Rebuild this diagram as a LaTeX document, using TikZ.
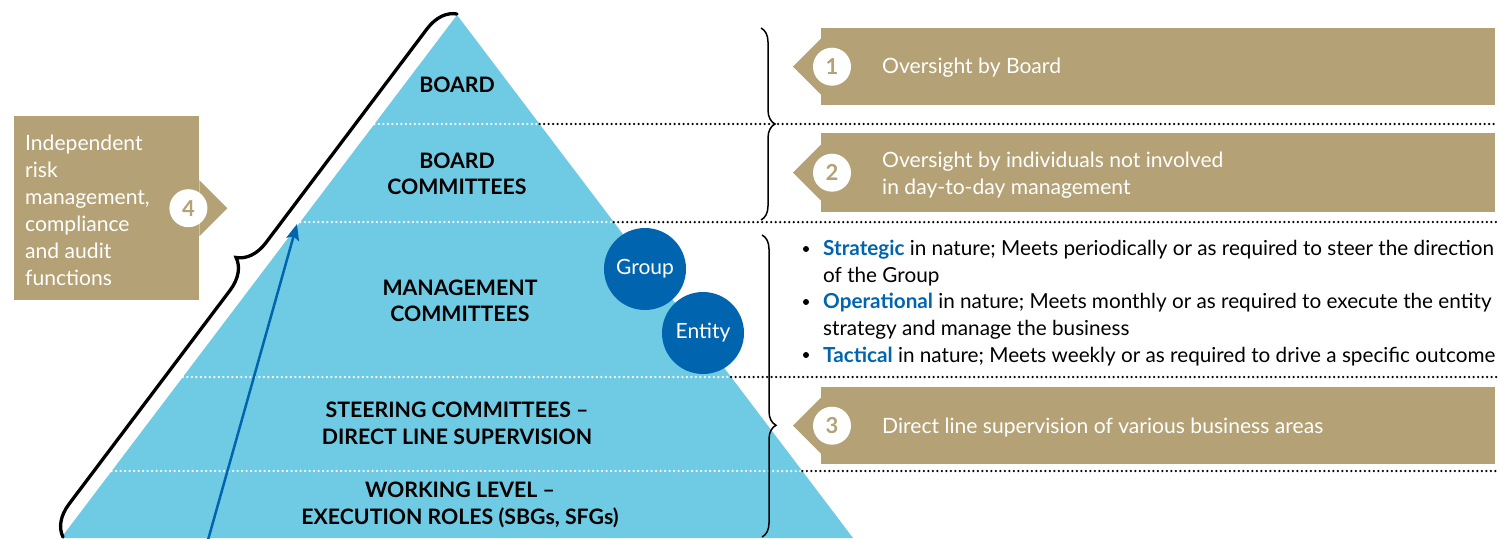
\documentclass[tikz,border=0pt]{standalone}
\usepackage{fontspec}
\setmainfont{Lato}
\usetikzlibrary{decorations.pathreplacing,calc,arrows.meta}
\definecolor{tan}{HTML}{B4A276}
\definecolor{pyr}{HTML}{6FCBE3}
\definecolor{dblue}{HTML}{0065AE}
\begin{document}
\begin{tikzpicture}[x=1pt,y=-1pt,
  lvl/.style={font=\fontsize{21.3}{26.5}\selectfont\bfseries, align=center, inner sep=0pt},
  rtext/.style={font=\fontsize{21.1}{27}\selectfont, text=white, align=left, inner sep=0pt, anchor=west},
  btext/.style={font=\fontsize{20.7}{26.8}\selectfont, text=black, align=left, inner sep=0pt, anchor=west},
  wdots/.style={white, line width=2.5pt, dash pattern=on 0pt off 4.5pt, line cap=round},
  bdots/.style={black, line width=2.5pt, dash pattern=on 0pt off 4.5pt, line cap=round},
  tanbox/.style={fill=tan, draw=none, inner sep=0pt, anchor=north west},
  numc/.style={circle, fill=white, inner sep=0pt, minimum size=38pt, text=tan, font=\fontsize{22}{24}\selectfont\bfseries},
  bluec/.style={circle, fill=dblue, inner sep=0pt, minimum size=82pt, text=white, font=\fontsize{21}{24}\selectfont},
  bul/.style={circle, fill=black, inner sep=0pt, minimum size=6pt},
  rbrace/.style={decorate, decoration={brace, amplitude=14pt}, line width=1.5pt, black}
]
\useasboundingbox (0,0) rectangle (1501,538);
% pyramid
\coordinate (apex) at (457,15);
\coordinate (bl) at (61,538);
\coordinate (br) at (853,538);
\fill[pyr] (apex) -- (br) -- (bl) -- cycle;
\foreach \t/\y [count=\i] in {0.2084/124, 0.3958/222, 0.6922/377, 0.8719/471} {
  \coordinate (l\i) at ($(apex)!\t!(bl)$);
  \coordinate (r\i) at ($(apex)!\t!(br)$);
  \coordinate (e\i) at (1497,\y);
  \draw[wdots] (l\i) -- (r\i);
  \draw[bdots] (r\i) -- (e\i);
}
% level labels
\node[lvl] (board) at (457,85) {BOARD};
\node[lvl] (bcomm) at (457,174) {BOARD\\COMMITTEES};
\node[lvl] (mcomm) at (460,301) {MANAGEMENT\\COMMITTEES};
\node[lvl] (steer) at (457,423.5) {STEERING COMMITTEES --\\DIRECT LINE SUPERVISION};
\node[lvl] (work) at (460,505) {WORKING LEVEL --\\EXECUTION ROLES (SBGs, SFGs)};
% group / entity
\node[bluec] (group) at (645,269) {Group};
\node[bluec] (entity) at (703,333) {Entity};
% blue arrow
\coordinate (arrS) at (208,540);
\coordinate (arrE) at (297,224);
\draw[dblue, line width=2.5pt, -{Stealth[length=16pt,width=13pt,inset=3pt]}] (arrS) -- (arrE);
% left brace
\coordinate (lbS) at (63,537);
\coordinate (lbE) at (457,14);
\draw[decorate, decoration={brace, amplitude=30pt}, line width=3.3pt, black, line cap=round] (lbS) -- (lbE);
% right braces
\coordinate (raS) at (761,28);
\coordinate (raE) at (761,220);
\draw[rbrace] (raS) -- (raE);
\coordinate (rbS) at (762,235);
\coordinate (rbE) at (762,537);
\draw[rbrace, decoration={brace, amplitude=14pt, aspect=0.63}] (rbS) -- (rbE);
% box 1
\node[tanbox, minimum width=674pt, minimum height=77pt] (B1) at (821,28) {};
\fill[tan] ($(B1.west)+(0,-28)$) -- ($(B1.west)+(-28,0)$) -- ($(B1.west)+(0,28)$) -- cycle;
\node[numc] (n1) at ($(B1.west)+(11,0)$) {1};
\node[rtext] (t1) at (882,68) {Oversight by Board};
% box 2
\node[tanbox, minimum width=674pt, minimum height=79pt] (B2) at (821,133) {};
\fill[tan] ($(B2.west)+(0,-28)$) -- ($(B2.west)+(-28,0)$) -- ($(B2.west)+(0,28)$) -- cycle;
\node[numc] (n2) at ($(B2.west)+(11,0)$) {2};
\node[rtext] (t2) at (882,175) {Oversight by individuals not involved\\in day-to-day management};
% box 3
\node[tanbox, minimum width=674pt, minimum height=77pt] (B3) at (821,387) {};
\fill[tan] ($(B3.west)+(0,-28)$) -- ($(B3.west)+(-28,0)$) -- ($(B3.west)+(0,28)$) -- cycle;
\node[numc] (n3) at ($(B3.west)+(11,0)$) {3};
\node[rtext] (t3) at (882,428) {Direct line supervision of various business areas};
% box 4
\node[tanbox, minimum width=185pt, minimum height=184pt] (B4) at (14,116) {};
\fill[tan] ($(B4.east)+(0,-28)$) -- ($(B4.east)+(28,0)$) -- ($(B4.east)+(0,28)$) -- cycle;
\node[numc] (n4) at ($(B4.east)+(-11,0)$) {4};
\node[rtext] (t4) at (25,210) {Independent\\risk\\management,\\compliance\\and audit\\functions};
% bullets
\node[bul] (d1) at (806,249) {};
\node[bul] (d2) at (806,302) {};
\node[bul] (d3) at (806,355) {};
\node[btext] (s1) at (823,263) {{\color{dblue}\bfseries Strategic} in nature; Meets periodically or as required to steer the direction\\of the Group};
\node[btext] (s2) at (823,316.5) {{\color{dblue}\bfseries Operational} in nature; Meets monthly or as required to execute the entity\\strategy and manage the business};
\node[btext] (s3) at (823,357) {{\color{dblue}\bfseries Tactical} in nature; Meets weekly or as required to drive a specific outcome};
\end{tikzpicture}
\end{document}
